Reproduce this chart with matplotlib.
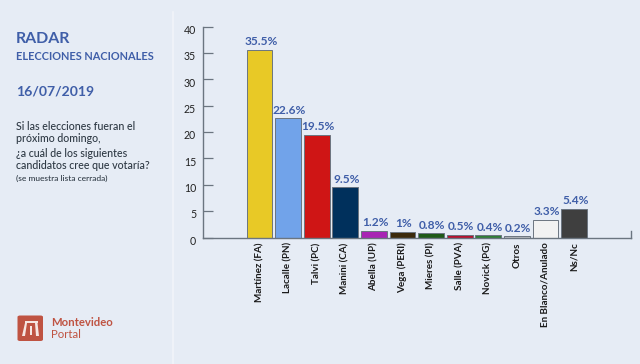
import matplotlib
matplotlib.use('Agg')
import matplotlib.pyplot as plt
from matplotlib.patches import FancyBboxPatch, Polygon, Rectangle
from matplotlib.transforms import ScaledTranslation

candidatos = ['Martínez (FA)', 'Lacalle (PN)', 'Talvi (PC)', 'Manini (CA)', 'Abella (UP)', 'Vega (PERI)',
              'Mieres (PI)', 'Salle (PVA)', 'Novick (PG)', 'Otros', 'En Blanco/Anulado', 'Ns/Nc']
valores = [35.5, 22.6, 19.5, 9.5, 1.2, 1.0, 0.8, 0.5, 0.4, 0.2, 3.3, 5.4]
etiquetas = ['35.5%', '22.6%', '19.5%', '9.5%', '1.2%', '1%', '0.8%', '0.5%', '0.4%', '0.2%', '3.3%', '5.4%']
colores = ['#e8c926', '#71a3ea', '#cf1515', '#00305c', '#a824b4', '#3b2a0c',
           '#1f5a18', '#b5122e', '#2f7d36', '#b9bcc0', '#f2f2f2', '#3f3f3f']
ticks = [0, 5, 10, 15, 20, 25, 30, 35, 40]

W, H = 640, 364
FONDO = '#e6ecf5'
AZUL = '#3f5ea8'
plt.rcParams['font.family'] = ['Lato', 'DejaVu Sans']

fig = plt.figure(figsize=(W / 100, H / 100), dpi=100, facecolor=FONDO)

# panel izquierdo
def txt(x, y, s, **kw):
    fig.text(x / W, 1 - y / H, s, va='center', ha='left', **kw)

txt(16, 39, 'RADAR', fontsize=11.4, fontweight='bold', color=AZUL)
txt(16, 57, 'ELECCIONES NACIONALES', fontsize=7.9, fontweight='bold', color=AZUL)
txt(16, 91, '16/07/2019', fontsize=10.1, color=AZUL, fontweight='bold')
txt(16, 126, 'Si las elecciones fueran el', fontsize=7.7, fontweight='medium', color='#2f3a45')
txt(16, 139, 'próximo domingo,', fontsize=7.7, fontweight='medium', color='#2f3a45')
txt(16, 153, '¿a cuál de los siguientes', fontsize=7.7, fontweight='medium', color='#2f3a45')
txt(16, 166, 'candidatos cree que votaría?', fontsize=7.7, fontweight='medium', color='#2f3a45')
txt(16, 178, '(se muestra lista cerrada)', fontsize=6, fontweight='medium', color='#2f3a45')

# linea divisoria
fig.add_artist(plt.Line2D([172.5 / W, 172.5 / W], [0, 1 - 12 / H], color='#f1f4f9', lw=1.2))

# logo
fig.add_artist(FancyBboxPatch((17.5 / W, 1 - 341 / H), 25.5 / W, 25.5 / H, boxstyle='round,pad=0,rounding_size=0.004',
                              transform=fig.transFigure, fc='#bf5342', ec='none'))
CLARO = '#f6e6e2'
fig.add_artist(Polygon([(22 / W, 1 - 336 / H), (25 / W, 1 - 336 / H), (27 / W, 1 - 323 / H), (25 / W, 1 - 323 / H)],
                       transform=fig.transFigure, fc=CLARO, ec='none'))
fig.add_artist(Polygon([(36 / W, 1 - 336 / H), (39 / W, 1 - 336 / H), (37.5 / W, 1 - 323 / H), (35 / W, 1 - 323 / H)],
                       transform=fig.transFigure, fc=CLARO, ec='none'))
fig.add_artist(Rectangle((25 / W, 1 - 323 / H), 12.5 / W, 2.2 / H, transform=fig.transFigure, fc=CLARO, ec='none'))
fig.add_artist(Rectangle((30 / W, 1 - 335 / H), 2 / W, 9 / H, transform=fig.transFigure, fc=CLARO, ec='none'))
txt(51, 322, 'Montevideo', fontsize=8.2, fontweight='bold', color='#bf5342')
txt(51, 334, 'Portal', fontsize=8.2, color='#bf5342')

# grafica
ax = fig.add_axes([203 / W, 1 - 237.5 / H, 428 / W, 211 / H])
ax.set_facecolor('none')
pos = list(range(len(valores)))
ax.bar(pos, valores, width=0.9, color=colores, edgecolor='#6b7580', linewidth=0.7)
for p, v, e in zip(pos, valores, etiquetas):
    ax.annotate(e, (p, v), xytext=(1, 2), textcoords='offset points', ha='center', va='bottom',
                fontsize=8.6, fontweight='bold', color=AZUL)

ax.set_xlim(-1.976, 12.99)
ax.set_ylim(0, 40)
ax.set_yticks(ticks)
ax.tick_params(axis='y', direction='in', length=7.5, width=0.9, color='#6b7580', pad=5, labelsize=7.6, labelcolor='#222222')
subir = ScaledTranslation(0, 1.2 / 72, fig.dpi_scale_trans)
for lab in ax.get_yticklabels():
    lab.set_va('top')
    lab.set_transform(lab.get_transform() + subir)
ax.set_xticks(pos)
ax.set_xticklabels(candidatos, rotation=90, fontsize=7.1, fontweight='bold', color='#1a1a1a', ha='center', va='top')
ax.tick_params(axis='x', length=0, pad=3.5)
for s in ['top', 'right']:
    ax.spines[s].set_visible(False)
for s in ['left', 'bottom']:
    ax.spines[s].set_color('#6b7580')
    ax.spines[s].set_linewidth(1)
ax.plot([12.99, 12.99], [0, 1.2], color='#6b7580', lw=1, clip_on=False)

fig.savefig('out.png', dpi=100, facecolor=FONDO)
